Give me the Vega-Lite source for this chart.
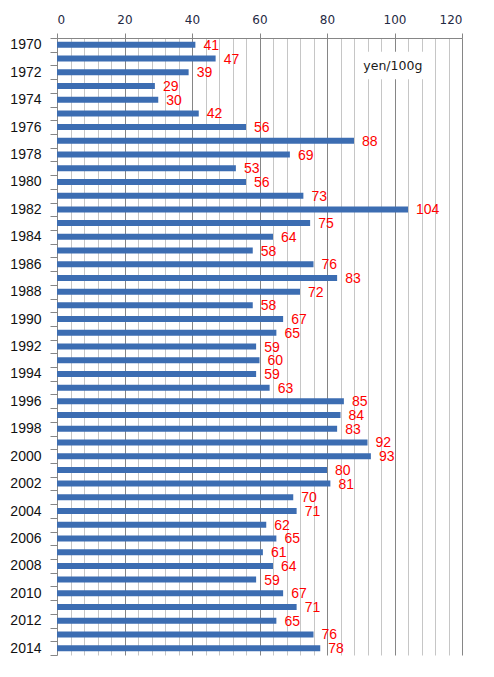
{
  "$schema": "https://vega.github.io/schema/vega-lite/v6.json",
  "width": 405,
  "height": 617,
  "autosize": {"type": "none"},
  "padding": {"left": 57, "top": 38, "right": 32, "bottom": 22},
  "background": "white",
  "config": {
    "view": {"stroke": null},
    "axis": {"labelFont": "DejaVu Sans", "labelColor": "#1a1a1a"},
    "text": {"font": "Liberation Sans"}
  },
  "datasets": {
    "price": [
      {"year": 1970, "v": 41}, {"year": 1971, "v": 47}, {"year": 1972, "v": 39},
      {"year": 1973, "v": 29}, {"year": 1974, "v": 30}, {"year": 1975, "v": 42},
      {"year": 1976, "v": 56}, {"year": 1977, "v": 88}, {"year": 1978, "v": 69},
      {"year": 1979, "v": 53}, {"year": 1980, "v": 56}, {"year": 1981, "v": 73},
      {"year": 1982, "v": 104}, {"year": 1983, "v": 75}, {"year": 1984, "v": 64},
      {"year": 1985, "v": 58}, {"year": 1986, "v": 76}, {"year": 1987, "v": 83},
      {"year": 1988, "v": 72}, {"year": 1989, "v": 58}, {"year": 1990, "v": 67},
      {"year": 1991, "v": 65}, {"year": 1992, "v": 59}, {"year": 1993, "v": 60},
      {"year": 1994, "v": 59}, {"year": 1995, "v": 63}, {"year": 1996, "v": 85},
      {"year": 1997, "v": 84}, {"year": 1998, "v": 83}, {"year": 1999, "v": 92},
      {"year": 2000, "v": 93}, {"year": 2001, "v": 80}, {"year": 2002, "v": 81},
      {"year": 2003, "v": 70}, {"year": 2004, "v": 71}, {"year": 2005, "v": 62},
      {"year": 2006, "v": 65}, {"year": 2007, "v": 61}, {"year": 2008, "v": 64},
      {"year": 2009, "v": 59}, {"year": 2010, "v": 67}, {"year": 2011, "v": 71},
      {"year": 2012, "v": 65}, {"year": 2013, "v": 76}, {"year": 2014, "v": 78}
    ],
    "unitbox": [
      {"year": 1971, "x1": 88.5, "x2": 111},
      {"year": 1972, "x1": 88.5, "x2": 111}
    ],
    "unit": [
      {"year": 1971, "x": 99.5, "label": "yen/100g"}
    ]
  },
  "resolve": {"axis": {"x": "independent"}},
  "layer": [
    {
      "data": {"name": "unitbox"},
      "mark": {"type": "bar", "color": "white"},
      "encoding": {
        "y": {
          "field": "year", "type": "ordinal",
          "scale": {"paddingInner": 0, "paddingOuter": 0},
          "axis": {
            "title": null, "tickBand": "extent", "tickSize": 7, "tickColor": "#868686",
            "domain": false, "labelPadding": 9, "labelFontSize": 14,
            "labelFont": "Liberation Sans", "labelColor": "#111",
            "labelExpr": "toNumber(datum.value) % 2 == 0 ? datum.label : ''"
          }
        },
        "x": {
          "field": "x1", "type": "quantitative",
          "scale": {"domain": [0, 120], "nice": false},
          "axis": {
            "orient": "bottom", "values": [4, 8, 12, 16, 24, 28, 32, 36, 44, 48, 52, 56, 64, 68, 72, 76, 84, 88, 92, 96, 104, 108, 112, 116],
            "labels": false, "ticks": false, "domain": false, "title": null,
            "grid": true, "gridColor": "#c6c6c6", "gridWidth": 1, "gridOpacity": 1
          }
        },
        "x2": {"field": "x2"}
      }
    },
    {
      "data": {"name": "price"},
      "layer": [
        {
          "mark": {"type": "bar", "color": "#3c6db2", "size": 6},
          "encoding": {
            "y": {"field": "year", "type": "ordinal"},
            "x": {
              "field": "v", "type": "quantitative",
              "scale": {"domain": [0, 120], "nice": false},
              "axis": {
                "orient": "top", "values": [0, 20, 40, 60, 80, 100, 120], "title": null,
                "grid": true, "gridColor": "#868686", "gridOpacity": 1,
                "domainColor": "#868686", "tickColor": "#868686", "tickSize": 5,
                "labelFontSize": 12, "labelPadding": 7, "labelColor": "#1f2a44"
              }
            }
          }
        },
        {
          "mark": {"type": "text", "align": "left", "baseline": "middle", "dx": 8, "dy": 1, "fontSize": 14, "color": "#ff0000"},
          "encoding": {
            "y": {"field": "year", "type": "ordinal"},
            "x": {"field": "v", "type": "quantitative"},
            "text": {"field": "v", "type": "quantitative"}
          }
        }
      ]
    },
    {
      "data": {"name": "unit"},
      "mark": {"type": "text", "align": "center", "baseline": "middle", "font": "DejaVu Sans", "fontSize": 12.5, "color": "#1a1a1a", "dy": 1},
      "encoding": {
        "y": {"field": "year", "type": "ordinal", "bandPosition": 1},
        "x": {"field": "x", "type": "quantitative", "axis": null},
        "text": {"field": "label"}
      }
    }
  ]
}
